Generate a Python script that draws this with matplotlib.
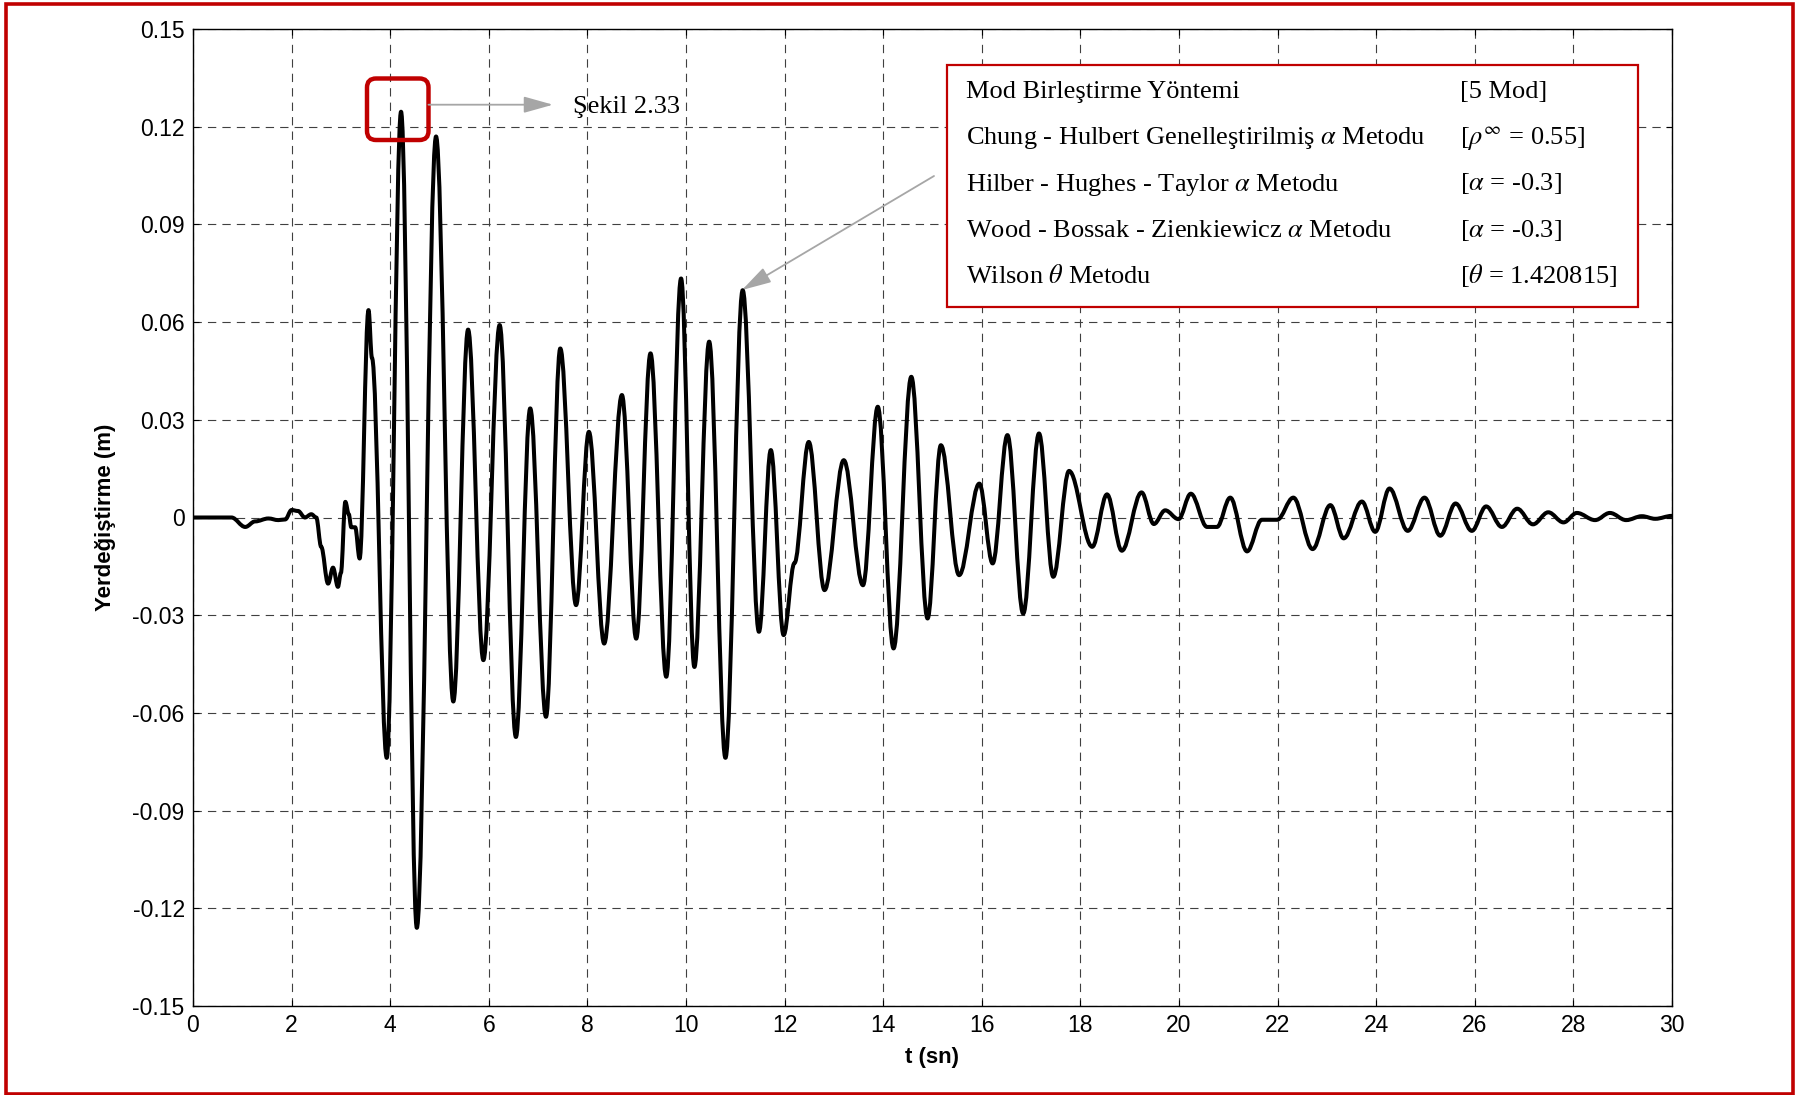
import matplotlib
matplotlib.use("Agg")
import matplotlib.pyplot as plt
from matplotlib.path import Path
from matplotlib.patches import PathPatch, Rectangle, FancyBboxPatch, FancyArrowPatch
from matplotlib.transforms import IdentityTransform

# ---------------- data ----------------
t_pts = [0.00, 0.78, 1.06, 1.26, 1.53, 1.73, 1.87, 2.00, 2.13, 2.27, 2.40, 2.50,
         2.60, 2.74, 2.84, 2.94, 3.00, 3.09, 3.16, 3.21, 3.29, 3.38, 3.56, 3.63,
         3.93, 4.22, 4.54, 4.93, 5.28, 5.58, 5.89, 6.22, 6.55, 6.84, 7.16, 7.45,
         7.77, 8.03, 8.34, 8.70, 8.99, 9.28, 9.60, 9.90, 10.17, 10.47, 10.80, 11.15,
         11.48, 11.72, 11.98, 12.20, 12.49, 12.81, 13.20, 13.59, 13.89, 14.21, 14.57,
         14.90, 15.17, 15.54, 15.95, 16.22, 16.52, 16.84, 17.16, 17.45, 17.77, 18.24,
         18.54, 18.84, 19.24, 19.49, 19.72, 19.99, 20.24, 20.57, 20.77, 21.04, 21.38,
         21.68, 21.99, 22.32, 22.71, 23.07, 23.34, 23.71, 23.98, 24.27, 24.64, 24.98,
         25.30, 25.61, 25.94, 26.23, 26.55, 26.86, 27.18, 27.49, 27.80, 28.07, 28.44,
         28.74, 29.07, 29.39, 29.66, 30.00]
d_pts = [0.0, 0.0, -0.0029, -0.0012, -0.0003, -0.0008, -0.0006, 0.0023, 0.0020, 0.0000, 0.0010, 0.0000,
         -0.0090, -0.0203, -0.0154, -0.0213, -0.0170, 0.0048, 0.0010, -0.0030, -0.0030, -0.0126, 0.0637, 0.0490,
         -0.0738, 0.1246, -0.1260, 0.1170, -0.0565, 0.0577, -0.0438, 0.0591, -0.0674, 0.0335, -0.0612, 0.0519,
         -0.0269, 0.0263, -0.0387, 0.0376, -0.0372, 0.0504, -0.0489, 0.0734, -0.0459, 0.0540, -0.0738, 0.0698,
         -0.0351, 0.0207, -0.0361, -0.0140, 0.0232, -0.0223, 0.0176, -0.0208, 0.0340, -0.0402, 0.0432,
         -0.0310, 0.0222, -0.0177, 0.0104, -0.0141, 0.0253, -0.0295, 0.0258, -0.0182, 0.0143, -0.0090,
         0.0071, -0.0102, 0.0077, -0.0020, 0.0022, -0.0005, 0.0073, -0.0029, -0.0029, 0.0061, -0.0104,
         -0.0007, -0.0007, 0.0061, -0.0097, 0.0038, -0.0064, 0.0049, -0.0044, 0.0089, -0.0041, 0.0061,
         -0.0056, 0.0043, -0.0041, 0.0034, -0.0029, 0.0027, -0.0021, 0.0016, -0.0015, 0.0014, -0.0008,
         0.0014, -0.0008, 0.0004, -0.0004, 0.0005]

x_ticks = [0, 2, 4, 6, 8, 10, 12, 14, 16, 18, 20, 22, 24, 26, 28, 30]
y_ticks = [-0.15, -0.12, -0.09, -0.06, -0.03, 0, 0.03, 0.06, 0.09, 0.12, 0.15]
y_tick_labels = ["-0.15", "-0.12", "-0.09", "-0.06", "-0.03", "0",
                 "0.03", "0.06", "0.09", "0.12", "0.15"]

legend_methods = ["Mod Birleştirme Yöntemi",
                  "Chung - Hulbert Genelleştirilmiş $\\alpha$ Metodu",
                  "Hilber - Hughes - Taylor $\\alpha$ Metodu",
                  "Wood - Bossak - Zienkiewicz $\\alpha$ Metodu",
                  "Wilson $\\theta$ Metodu"]
legend_params = ["[5 Mod]",
                 "[$\\rho^{\\infty}$ = 0.55]",
                 "[$\\alpha$ = -0.3]",
                 "[$\\alpha$ = -0.3]",
                 "[$\\theta$ = 1.420815]"]
note_text = "Şekil 2.33"

# ---------------- style ----------------
plt.rcParams['font.family'] = ['Liberation Sans', 'DejaVu Sans']
plt.rcParams['mathtext.fontset'] = 'stix'
RED = '#c00000'
W, H = 1806, 1095

fig = plt.figure(figsize=(W / 100, H / 100), dpi=100)
fig.patch.set_facecolor('white')

# axes placed in pixel units of the reference
ax = fig.add_axes([193 / W, 1 - 1006 / H, 1479 / W, 977 / H])
ax.set_xlim(0, 30)
ax.set_ylim(-0.15, 0.15)
ax.set_xticks(x_ticks)
ax.set_xticklabels([str(v) for v in x_ticks])
ax.set_yticks(y_ticks)
ax.set_yticklabels(y_tick_labels)
ax.tick_params(direction='in', top=True, right=True, length=4, width=0.8,
               labelsize=16.5, pad=6, colors='black')
for s in ax.spines.values():
    s.set_linewidth(1.0)
ax.grid(True, color='#404040', linewidth=0.8, linestyle=(0, (7.5, 5.5)))
ax.set_axisbelow(True)

ax.set_xlabel("t (sn)", fontsize=16, fontweight='bold')
ax.set_ylabel("Yerdeğiştirme (m)", fontsize=16, fontweight='bold')
ax.xaxis.set_label_coords(0.5, -0.042)
ax.yaxis.set_label_coords(-0.0524, 0.5)

# response curve: smooth cubic segments between the read points
verts = [(t_pts[0], d_pts[0])]
codes = [Path.MOVETO]
k = 0.36
for i in range(1, len(t_pts)):
    t0, v0 = t_pts[i - 1], d_pts[i - 1]
    t1, v1 = t_pts[i], d_pts[i]
    dt = t1 - t0
    verts += [(t0 + k * dt, v0), (t1 - k * dt, v1), (t1, v1)]
    codes += [Path.CURVE4] * 3
curve = PathPatch(Path(verts, codes), facecolor='none', edgecolor='black',
                  linewidth=2.9, joinstyle='round', capstyle='round',
                  transform=ax.transData, zorder=3)
ax.add_patch(curve)

# ---------------- overlays in pixel coordinates ----------------
px = IdentityTransform()

def P(x, y):
    return (x, H - y)

# figure frame
fig.add_artist(Rectangle(P(5.5, 1093.5), 1793 - 5.5, 1093.5 - 3.5, fill=False,
                         edgecolor=RED, linewidth=2.6, transform=px, zorder=10))

# legend-like box
bx0, by0, bx1, by1 = 947, 64.5, 1638, 306.5
fig.add_artist(Rectangle(P(bx0, by1), bx1 - bx0, by1 - by0, facecolor='white',
                         edgecolor=RED, linewidth=1.6, transform=px, zorder=5))
row_centers = [89.8, 135.9, 182.0, 228.1, 274.1]
for yc, m, p in zip(row_centers, legend_methods, legend_params):
    fig.text(966 / W, 1 - (yc + 8.5) / H, m, fontsize=19, family='Liberation Serif',
             ha='left', va='baseline', zorder=6)
    fig.text(1460.5 / W, 1 - (yc + 8.5) / H, p, fontsize=19, family='Liberation Serif',
             ha='left', va='baseline', zorder=6)

# red rounded highlight around the peak
fig.add_artist(FancyBboxPatch(P(367, 140), 61.5, 61.5,
                              boxstyle="round,pad=0,rounding_size=9",
                              fill=False, edgecolor=RED, linewidth=3.2,
                              transform=px, zorder=6))

# gray arrows
arrow_style = "-|>,head_length=1.5,head_width=0.42"
fig.add_artist(FancyArrowPatch(P(428.5, 104.7), P(553, 104.7), arrowstyle=arrow_style,
                               mutation_scale=12, color='#a6a6a6', linewidth=1.3,
                               shrinkA=0, shrinkB=0, transform=px, zorder=6))
fig.add_artist(FancyArrowPatch(P(934, 176), P(742, 290), arrowstyle=arrow_style,
                               mutation_scale=12, color='#a6a6a6', linewidth=1.3,
                               shrinkA=0, shrinkB=0, transform=px, zorder=6))
fig.text(572.7 / W, 1 - 113 / H, note_text, fontsize=19, family='Liberation Serif',
         ha='left', va='baseline', zorder=6)

fig.savefig("out.png", dpi=100)
